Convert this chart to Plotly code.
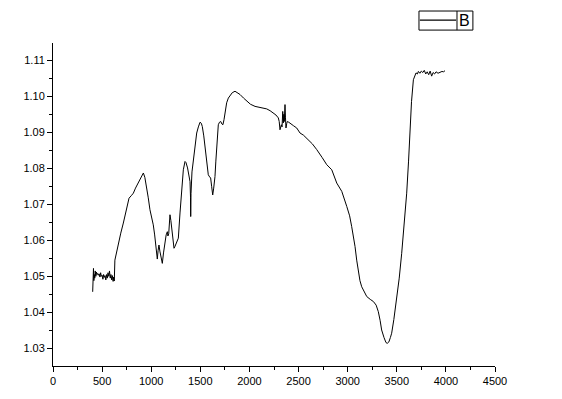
import plotly.graph_objects as go

wavenumber = [
    404, 408, 412, 416, 420, 425, 430, 436, 442, 448, 455, 462, 470, 478, 485, 492,
    500, 508, 515, 522, 530, 538, 546, 553, 560, 568, 575, 583, 590, 598, 605, 612,
    618, 624, 630, 660, 690, 716, 745, 774, 800, 818, 840, 860, 880, 900, 920, 935,
    953, 970, 987, 1005, 1021, 1035, 1049, 1055, 1062, 1070, 1079, 1088, 1096, 1105,
    1113, 1125, 1140, 1152, 1164, 1170, 1178, 1191, 1200, 1208, 1220, 1232, 1240,
    1249, 1262, 1276, 1293, 1310, 1327, 1344, 1354, 1370, 1385, 1395, 1400, 1402,
    1405, 1415, 1429, 1446, 1463, 1480, 1497, 1510, 1520, 1535, 1548, 1565, 1581,
    1595, 1605, 1615, 1626, 1636, 1649, 1658, 1666, 1675, 1683, 1695, 1708, 1720,
    1730, 1741, 1755, 1768, 1785, 1802, 1825, 1853, 1880, 1904, 1940, 1972, 2010,
    2057, 2110, 2176, 2210, 2243, 2270, 2294, 2303, 2311, 2318, 2325, 2332, 2339,
    2345, 2350, 2355, 2362, 2367, 2372, 2380, 2386, 2400, 2413, 2450, 2481, 2515,
    2550, 2583, 2640, 2685, 2701, 2740, 2787, 2838, 2889, 2940, 2991, 3020, 3041,
    3060, 3075, 3092, 3109, 3125, 3143, 3170, 3194, 3230, 3262, 3290, 3312, 3330,
    3346, 3370, 3390, 3403, 3420, 3435, 3448, 3470, 3499, 3525, 3550, 3575, 3601,
    3620, 3635, 3650, 3669, 3685, 3696, 3710, 3720, 3735, 3750, 3765, 3780, 3795,
    3810, 3825, 3840, 3855, 3870, 3885, 3900, 3920, 3940, 3960, 3975, 3991,
]
transmittance = [
    1.0457, 1.0490, 1.0522, 1.0488, 1.0505, 1.0495, 1.0515, 1.0500, 1.0512, 1.0505,
    1.0508, 1.0503, 1.0507, 1.0498, 1.0510, 1.0500, 1.0503, 1.0492, 1.0505, 1.0497,
    1.0502, 1.0490, 1.0505, 1.0495, 1.0510, 1.0500, 1.0515, 1.0495, 1.0505, 1.0490,
    1.0502, 1.0486, 1.0498, 1.0487, 1.0545, 1.0585, 1.0620, 1.0648, 1.0685, 1.0717,
    1.0725, 1.0731, 1.0745, 1.0755, 1.0768, 1.0778, 1.0787, 1.0775, 1.0750, 1.0718,
    1.0685, 1.0665, 1.0643, 1.0615, 1.0587, 1.0560, 1.0548, 1.0572, 1.0587, 1.0570,
    1.0559, 1.0545, 1.0536, 1.0565, 1.0601, 1.0615, 1.0624, 1.0612, 1.0618, 1.0671,
    1.0655, 1.0638, 1.0605, 1.0578, 1.0582, 1.0587, 1.0595, 1.0606, 1.0676, 1.0740,
    1.0796, 1.0819, 1.0816, 1.0801, 1.0780, 1.0763, 1.0720, 1.0666, 1.0730, 1.0790,
    1.0824, 1.0862, 1.0898, 1.0915, 1.0928, 1.0925, 1.0916, 1.0890, 1.0861, 1.0820,
    1.0782, 1.0776, 1.0773, 1.0750, 1.0726, 1.0745, 1.0777, 1.0820, 1.0861, 1.0895,
    1.0921, 1.0928, 1.0930, 1.0923, 1.0921, 1.0935, 1.0960, 1.0982, 1.0995, 1.1002,
    1.1010, 1.1014, 1.1010, 1.1005, 1.0995, 1.0986, 1.0978, 1.0972, 1.0968, 1.0965,
    1.0960, 1.0954, 1.0948, 1.0940, 1.0930, 1.0907, 1.0916, 1.0921, 1.0915, 1.0958,
    1.0926, 1.0950, 1.0930, 1.0977, 1.0940, 1.0912, 1.0925, 1.0930, 1.0928, 1.0926,
    1.0918, 1.0912, 1.0898, 1.0892, 1.0884, 1.0868, 1.0852, 1.0846, 1.0830, 1.0810,
    1.0796, 1.0759, 1.0736, 1.0694, 1.0668, 1.0638, 1.0612, 1.0583, 1.0545, 1.0509,
    1.0488, 1.0471, 1.0455, 1.0444, 1.0436, 1.0430, 1.0420, 1.0402, 1.0378, 1.0351,
    1.0330, 1.0316, 1.0314, 1.0318, 1.0330, 1.0342, 1.0380, 1.0434, 1.0495, 1.0564,
    1.0645, 1.0731, 1.0820, 1.0916, 1.0985, 1.1046, 1.1060, 1.1065, 1.1062, 1.1069,
    1.1064, 1.1070, 1.1066, 1.1072, 1.1062, 1.1068, 1.1060, 1.1070, 1.1056, 1.1066,
    1.1062, 1.1068, 1.1064, 1.1067, 1.1069, 1.1068, 1.1071,
]

x_ticks = [0, 500, 1000, 1500, 2000, 2500, 3000, 3500, 4000, 4500]
y_ticks = [1.03, 1.04, 1.05, 1.06, 1.07, 1.08, 1.09, 1.10, 1.11]
series_name = "B"

fig = go.Figure()
fig.add_trace(go.Scatter(
    x=wavenumber, y=transmittance, mode="lines", name=series_name,
    line=dict(color="black", width=1), showlegend=False,
))

font = dict(family="Liberation Sans, Arial, sans-serif", size=11, color="black")

# Origin-style legend box (key line + label) placed in paper coordinates
legend_shapes = [
    dict(type="rect", xref="paper", yref="paper", x0=0.828, x1=0.950, y0=1.040, y1=1.099,
         line=dict(color="black", width=1), fillcolor="white", layer="above"),
    dict(type="line", xref="paper", yref="paper", x0=0.830, x1=0.912, y0=1.071, y1=1.071,
         line=dict(color="black", width=1.2), layer="above"),
    dict(type="line", xref="paper", yref="paper", x0=0.914, x1=0.914, y0=1.040, y1=1.099,
         line=dict(color="black", width=1), layer="above"),
]

fig.update_layout(
    width=562, height=399,
    margin=dict(l=53, r=67, t=43, b=33),
    paper_bgcolor="white", plot_bgcolor="white",
    font=font,
    showlegend=False,
    shapes=legend_shapes,
    annotations=[dict(
        text=series_name, xref="paper", yref="paper", x=0.932, y=1.069,
        xanchor="center", yanchor="middle", showarrow=False,
        font=dict(family="Liberation Sans, Arial, sans-serif", size=16, color="black"),
    )],
    xaxis=dict(
        range=[0, 4500], tickvals=x_ticks, ticktext=[str(v) for v in x_ticks],
        showline=True, linecolor="black", linewidth=1, showgrid=False, zeroline=False,
        ticks="outside", ticklen=5, tickcolor="black", tickfont=font,
        minor=dict(ticks="outside", ticklen=3, dtick=250, tick0=0, tickcolor="black", showgrid=False),
    ),
    yaxis=dict(
        range=[1.0251, 1.1148], tickvals=y_ticks, ticktext=[f"{v:.2f}" for v in y_ticks],
        showline=True, linecolor="black", linewidth=1, showgrid=False, zeroline=False,
        ticks="outside", ticklen=5, tickcolor="black", tickfont=font,
        minor=dict(ticks="outside", ticklen=3, dtick=0.005, tick0=1.0, tickcolor="black", showgrid=False),
    ),
)

fig.write_html("out.html")
